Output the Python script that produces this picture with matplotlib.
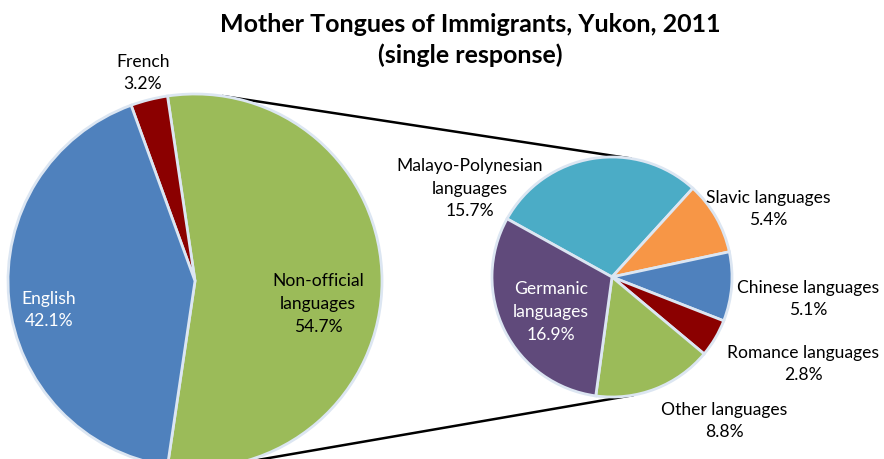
import numpy as np
import matplotlib
matplotlib.use("Agg")
import matplotlib.pyplot as plt

# ---- data ----
main_labels = ["Non-official\nlanguages", "French", "English"]
main_values = [54.7, 3.2, 42.1]
sub_labels = ["Malayo-Polynesian\nlanguages", "Slavic languages", "Chinese languages",
              "Romance languages", "Other languages", "Germanic\nlanguages"]
sub_values = [15.7, 5.4, 5.1, 2.8, 8.8, 16.9]
title = "Mother Tongues of Immigrants, Yukon, 2011\n(single response)"

# ---- style ----
main_colors = ["#9BBB59", "#8B0000", "#4F81BD"]
sub_colors = ["#4BACC6", "#F79646", "#4F81BD", "#8B0000", "#9BBB59", "#604A7B"]
edge = "#DCE6F2"
plt.rcParams['font.family'] = ['Lato', 'DejaVu Sans']

W, H = 884, 460
fig = plt.figure(figsize=(W / 100, H / 100), dpi=100)
ax = fig.add_axes([0, 0, 1, 1])

c1, r1 = (195, H - 282), 187
c2, r2 = (612, H - 278), 120

split = main_values[0] / sum(main_values) * 360
ax.pie(main_values, colors=main_colors, center=c1, radius=r1,
       startangle=-split / 2, counterclock=True,
       wedgeprops=dict(edgecolor=edge, linewidth=2))
ax.pie(sub_values, colors=sub_colors, center=c2, radius=r2,
       startangle=151, counterclock=False,
       wedgeprops=dict(edgecolor=edge, linewidth=2))

# external tangent connector lines
d = np.hypot(c2[0] - c1[0], c2[1] - c1[1])
base = np.arctan2(c2[1] - c1[1], c2[0] - c1[0])
th = np.arccos((r1 - r2) / d)
for s in (1, -1):
    a = base + s * th
    p1 = (c1[0] + r1 * np.cos(a), c1[1] + r1 * np.sin(a))
    p2 = (c2[0] + r2 * np.cos(a), c2[1] + r2 * np.sin(a))
    ax.plot([p1[0], p2[0]], [p1[1], p2[1]], color="black", lw=1.8, zorder=0.5)

# labels
fs = 12.6
ls = 1.5
main_pos = [(318, 304), (143, 73), (49, 310)]
main_tc = ["black", "black", "white"]
for lab, v, (x, y), tc in zip(main_labels, main_values, main_pos, main_tc):
    ax.text(x, H - y, f"{lab}\n{v:.1f}%", ha="center", va="center",
            fontsize=fs, color=tc, linespacing=ls)

sub_pos = [(470, 189), (768, 209), (808, 299), (803, 364), (724, 421), (551, 312)]
sub_tc = ["black", "black", "black", "black", "black", "white"]
for lab, v, (x, y), tc in zip(sub_labels, sub_values, sub_pos, sub_tc):
    ax.text(x, H - y, f"{lab}\n{v:.1f}%", ha="center", va="center",
            fontsize=fs, color=tc, linespacing=ls)

ax.text(470, H - 40, title, ha="center", va="center", fontsize=18,
        fontweight="bold", linespacing=1.33)

ax.set_xlim(0, W)
ax.set_ylim(0, H)
ax.set_aspect("equal")
ax.axis("off")
fig.savefig("out.png", dpi=100)
